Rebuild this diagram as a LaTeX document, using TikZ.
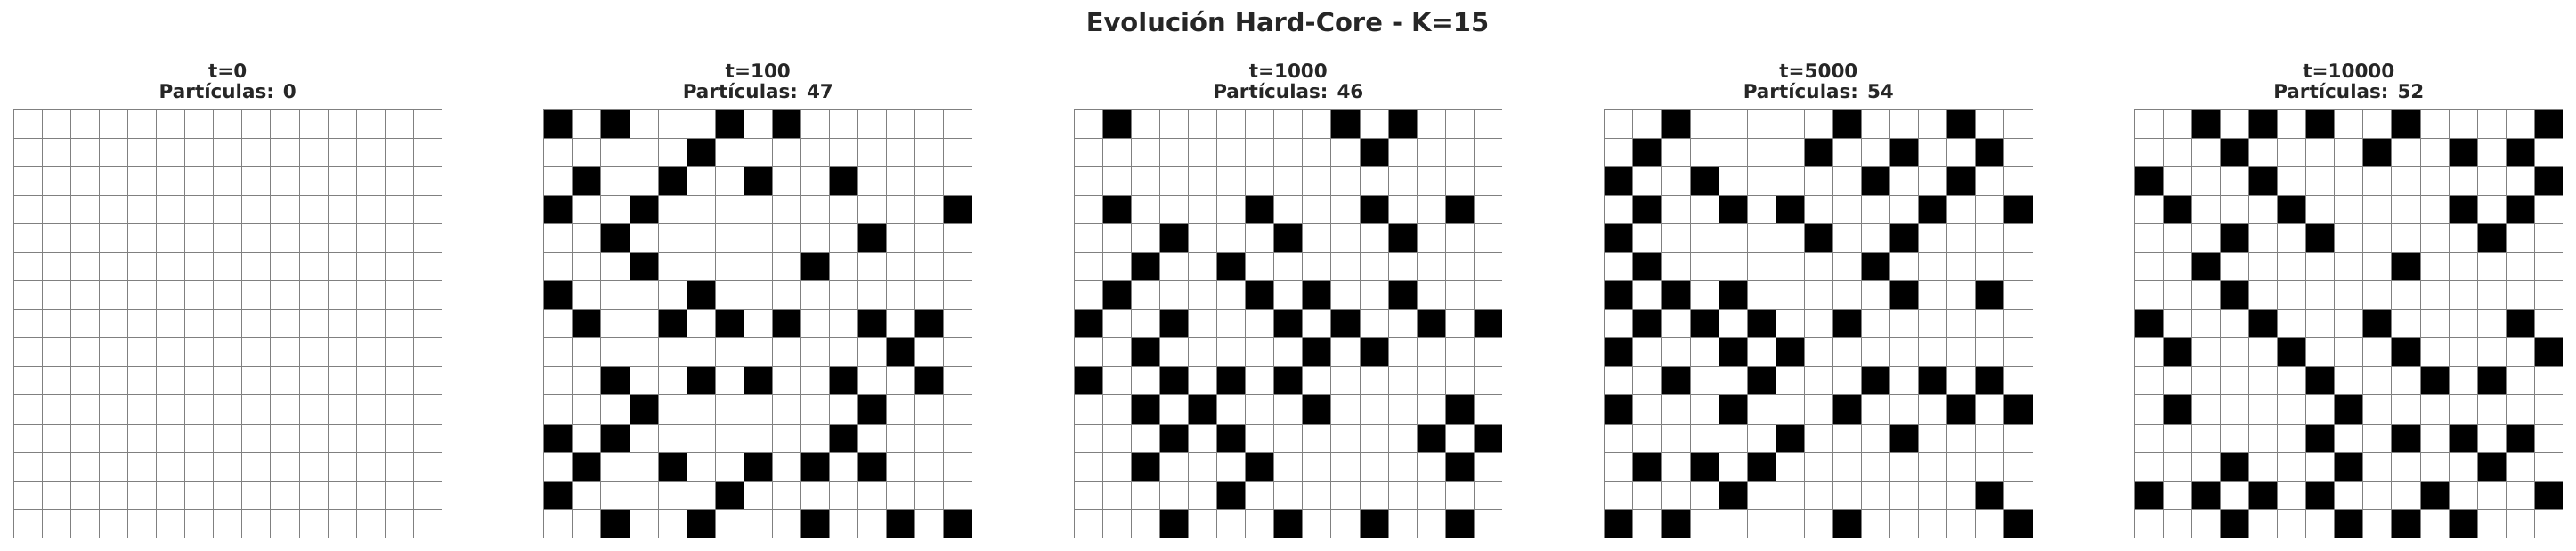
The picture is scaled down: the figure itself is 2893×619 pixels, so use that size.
\documentclass[tikz,border=0pt]{standalone}
\usepackage{fontspec}
\setmainfont{DejaVu Sans}
\definecolor{texto}{HTML}{262626}
\definecolor{lineas}{HTML}{808080}
\tikzset{
  celda/.style={fill=black},
  rejilla/.style={draw=lineas, line width=0.5pt},
  titulo/.style={anchor=base, text=texto, font=\bfseries\fontsize{14.5}{17}\selectfont},
  subtitulo/.style={anchor=base, text=texto, font=\bfseries\fontsize{10.75}{13}\selectfont}
}
\begin{document}
\begin{tikzpicture}[x=0.5pt, y=-0.5pt]
    \useasboundingbox (0,0) rectangle (2893,619);
    \def\s{32.07}

    % Titulo general
    \node[titulo] (titulo) at (1446,36) {Evolución Hard-Core - K=15};

    % Particulas en t=100
    \foreach \r/\c in {0/0,0/2,0/6,0/8, 1/5, 2/1,2/4,2/7,2/10, 3/0,3/3,3/14, 4/2,4/11, 5/3,5/9, 6/0,6/5,
        7/1,7/4,7/6,7/8,7/11,7/13, 8/12, 9/2,9/5,9/7,9/10,9/13, 10/3,10/11, 11/0,11/2,11/10,
        12/1,12/4,12/7,12/9,12/11, 13/0,13/6, 14/2,14/5,14/9,14/12,14/14}
        \fill[celda] (610.8+\c*\s,123.3+\r*\s) rectangle ++(\s,\s);

    % Particulas en t=1000
    \foreach \r/\c in {0/1,0/9,0/11, 1/10, 3/1,3/6,3/10,3/13, 4/3,4/7,4/11, 5/2,5/5, 6/1,6/6,6/8,6/11,
        7/0,7/3,7/7,7/9,7/12,7/14, 8/2,8/8,8/10, 9/0,9/3,9/5,9/7, 10/2,10/4,10/8,10/13,
        11/3,11/5,11/12,11/14, 12/2,12/6,12/13, 13/5, 14/3,14/7,14/10,14/13}
        \fill[celda] (1206.3+\c*\s,123.3+\r*\s) rectangle ++(\s,\s);

    % Particulas en t=5000
    \foreach \r/\c in {0/2,0/8,0/12, 1/1,1/7,1/10,1/13, 2/0,2/3,2/9,2/12, 3/1,3/4,3/6,3/11,3/14,
        4/0,4/7,4/10, 5/1,5/9, 6/0,6/2,6/4,6/10,6/13, 7/1,7/3,7/5,7/8, 8/0,8/4,8/6,
        9/2,9/5,9/9,9/11,9/13, 10/0,10/4,10/8,10/12,10/14, 11/6,11/10, 12/1,12/3,12/5,
        13/4,13/13, 14/0,14/2,14/8,14/14}
        \fill[celda] (1801.8+\c*\s,123.3+\r*\s) rectangle ++(\s,\s);

    % Particulas en t=10000
    \foreach \r/\c in {0/2,0/4,0/6,0/9,0/14, 1/3,1/8,1/11,1/13, 2/0,2/4,2/14, 3/1,3/5,3/11,3/13,
        4/3,4/6,4/12, 5/2,5/9, 6/3, 7/0,7/4,7/8,7/13, 8/1,8/5,8/9,8/14, 9/6,9/10,9/12,
        10/1,10/7, 11/6,11/9,11/11,11/13, 12/3,12/7,12/12, 13/0,13/2,13/4,13/6,13/10,13/14,
        14/3,14/7,14/9,14/11}
        \fill[celda] (2397.3+\c*\s,123.3+\r*\s) rectangle ++(\s,\s);

    % Rejillas y titulos de cada paso
    \foreach \i/\t/\n in {0/0/0, 1/100/47, 2/1000/46, 3/5000/54, 4/10000/52} {
        \pgfmathsetmacro\xo{15.3+595.5*\i}
        \foreach \k in {0,...,14} {
            \draw[rejilla] (\xo+\k*\s,123.3) -- ++(0,15*\s);
            \draw[rejilla] (\xo,123.3+\k*\s) -- ++(15*\s,0);
        }
        \node[subtitulo] (t\i) at (\xo+7.5*\s,87.3) {t=\t};
        \node[subtitulo] (p\i) at (\xo+7.5*\s,110.7) {Partículas: \n};
    }
\end{tikzpicture}
\end{document}
